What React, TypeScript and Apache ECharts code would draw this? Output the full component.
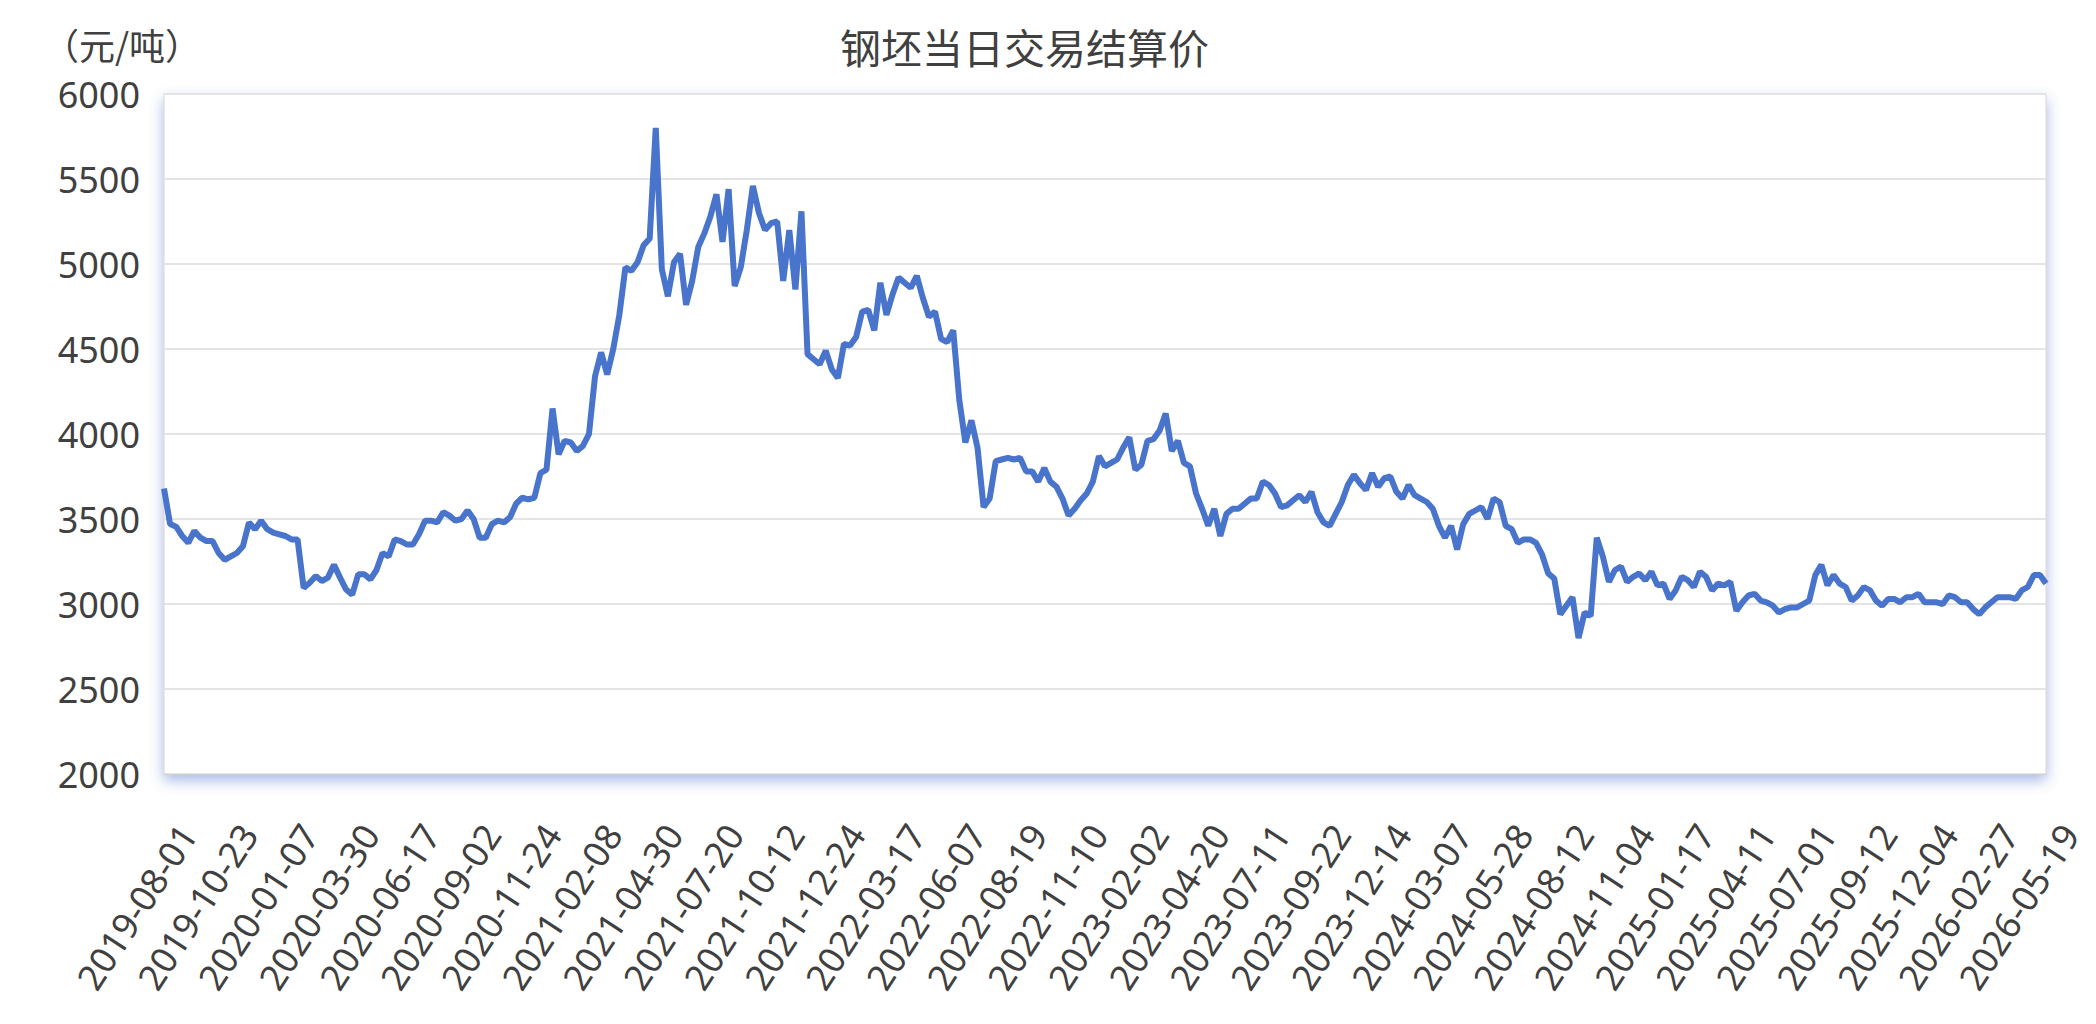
import { useEffect, useRef } from "react";
import * as echarts from "echarts";

// tick labels, one every 10 points
const tickLabels = [
  "2019-08-01", "2019-10-23", "2020-01-07", "2020-03-30", "2020-06-17", "2020-09-02",
  "2020-11-24", "2021-02-08", "2021-04-30", "2021-07-20", "2021-10-12", "2021-12-24",
  "2022-03-17", "2022-06-07", "2022-08-19", "2022-11-10", "2023-02-02", "2023-04-20",
  "2023-07-11", "2023-09-22", "2023-12-14", "2024-03-07", "2024-05-28", "2024-08-12",
  "2024-11-04", "2025-01-17", "2025-04-11", "2025-07-01", "2025-09-12", "2025-12-04",
  "2026-02-27", "2026-05-19",
];

// settlement prices (元/吨)
const p2019 = [
  3680, 3470, 3455, 3400, 3360, 3430, 3390, 3370, 3370, 3300,
  3260, 3280, 3300, 3340, 3480, 3440, 3490, 3440, 3420, 3410,
];
const p2020 = [
  3400, 3380, 3380, 3095, 3125, 3165, 3135, 3155, 3230, 3155,
  3085, 3055, 3175, 3175, 3145, 3200, 3300, 3280, 3380, 3370,
  3350, 3350, 3410, 3490, 3490, 3480, 3540, 3520, 3490, 3500,
  3550, 3500, 3390, 3390, 3470, 3490, 3480, 3510, 3590, 3625,
  3615, 3625, 3770, 3790, 4150, 3880, 3960, 3950, 3900, 3930,
];
const p2021 = [
  4000, 4340, 4480, 4350, 4500, 4700, 4980, 4960, 5010, 5110,
  5150, 5800, 4970, 4810, 5010, 5060, 4760, 4900, 5100, 5180,
  5280, 5410, 5130, 5440, 4870, 4980, 5200, 5460, 5300, 5200,
  5240, 5250, 4900, 5200, 4850, 5310, 4470, 4440, 4410, 4490,
  4380, 4330, 4530, 4520, 4570, 4720, 4730, 4610, 4890, 4700,
];
const p2022 = [
  4820, 4920, 4890, 4860, 4930, 4800, 4690, 4720, 4560, 4540,
  4610, 4200, 3950, 4080, 3920, 3570, 3620, 3840, 3850, 3860,
  3850, 3860, 3780, 3780, 3720, 3800, 3720, 3690, 3620, 3520,
  3560, 3610, 3650, 3720, 3870, 3810, 3830, 3850, 3920, 3980,
  3790, 3820, 3960, 3970, 4020, 4120, 3900, 3960, 3830, 3810,
];
const p2023 = [
  3650, 3560, 3460, 3560, 3400, 3530, 3560, 3560, 3590, 3620,
  3620, 3720, 3700, 3650, 3570, 3580, 3610, 3640, 3600, 3660,
  3540, 3480, 3460, 3530, 3600, 3700, 3760, 3710, 3670, 3770,
  3690, 3740, 3750, 3660, 3620, 3700, 3640, 3620, 3600, 3560,
  3460, 3390, 3460, 3320, 3470, 3530, 3550, 3570, 3500, 3620,
];
const p2024 = [
  3600, 3460, 3440, 3360, 3380, 3380, 3360, 3290, 3180, 3150,
  2940, 2990, 3040, 2800, 2950, 2930, 3390, 3280, 3130, 3200,
  3220, 3130, 3160, 3180, 3140, 3190, 3110, 3120, 3030, 3080,
  3160, 3140, 3100, 3190, 3160, 3080, 3120, 3110, 3130, 2960,
  3010, 3050, 3060, 3020, 3010, 2990, 2950, 2970, 2980, 2980,
];
const p2025 = [
  3000, 3020, 3170, 3230, 3110, 3170, 3120, 3100, 3020, 3050,
  3100, 3080, 3020, 2990, 3030, 3030, 3010, 3040, 3040, 3060,
  3010, 3010, 3010, 3000, 3050, 3040, 3010, 3010, 2970, 2940,
  2980, 3010, 3040, 3040, 3040, 3030, 3080, 3100, 3170, 3170,
  3120,
];

const prices = [...p2019, ...p2020, ...p2021, ...p2022, ...p2023, ...p2024, ...p2025];
const categories = prices.map((_, i) => String(i));

const font = "'Noto Sans', 'Noto Sans CJK SC', sans-serif";
const cjkFont = "'Noto Sans CJK SC', sans-serif";
const textColor = "#404040";

function PriceChart() {
  const ref = useRef<HTMLDivElement>(null);
  useEffect(() => {
    if (!ref.current) return;
    const chart = echarts.init(ref.current, undefined, { renderer: "svg" });
    chart.setOption({
      animation: false,
      backgroundColor: "#fff",
      title: {
        text: "钢坯当日交易结算价",
        left: 840,
        top: 25,
        padding: 0,
        textStyle: { fontSize: 41, fontWeight: "normal", color: textColor, fontFamily: cjkFont },
      },
      grid: [
        {
          left: 164, right: 50, top: 94, bottom: 250,
          show: true, backgroundColor: "#fff", borderColor: "#d6d6d6", borderWidth: 1,
          shadowColor: "rgba(60, 100, 200, 0.45)", shadowBlur: 14, shadowOffsetY: 6,
        },
        // labels only, shifted to where the dates sit in the picture
        { left: 188, right: 26, top: 94, bottom: 250, show: false },
      ],
      xAxis: [
        {
          type: "category",
          gridIndex: 0,
          data: categories,
          boundaryGap: false,
          axisLine: { lineStyle: { color: "#cfcfcf" } },
          axisTick: { show: false },
          axisLabel: { show: false },
        },
        {
          type: "category",
          gridIndex: 1,
          data: categories,
          boundaryGap: false,
          axisLine: { show: false },
          axisTick: { show: false },
          axisLabel: {
            interval: 9,
            rotate: 57,
            margin: 54,
            fontSize: 36,
            color: textColor,
            fontFamily: font,
            formatter: (_v: string, idx: number) => tickLabels[idx / 10] ?? "",
          },
        },
      ],
      yAxis: [
        {
          type: "value",
          gridIndex: 0,
          min: 2000,
          max: 6000,
          interval: 500,
          name: "（元/吨）",
          nameGap: 32,
          nameTextStyle: { fontSize: 36, color: textColor, fontFamily: cjkFont, align: "center", padding: [0, 84, 0, 0] },
          axisLine: { show: false },
          axisTick: { show: false },
          axisLabel: {
            fontSize: 36, color: textColor, fontFamily: font, margin: 24,
            formatter: (v: number) => String(v),
          },
          splitLine: { lineStyle: { color: "#e4e4e4", width: 2 } },
        },
        { type: "value", gridIndex: 1, show: false, min: 0, max: 1 },
      ],
      series: [
        {
          type: "line",
          xAxisIndex: 0,
          yAxisIndex: 0,
          data: prices,
          showSymbol: false,
          symbol: "none",
          lineStyle: { color: "#4874cb", width: 6 },
          itemStyle: { color: "#4874cb" },
        },
      ],
    });
    return () => chart.dispose();
  }, []);
  return <div ref={ref} style={{ width: 2096, height: 1024 }} />;
}

export default function App() {
  useEffect(() => {
    document.body.style.margin = "0";
  }, []);
  return <PriceChart />;
}
